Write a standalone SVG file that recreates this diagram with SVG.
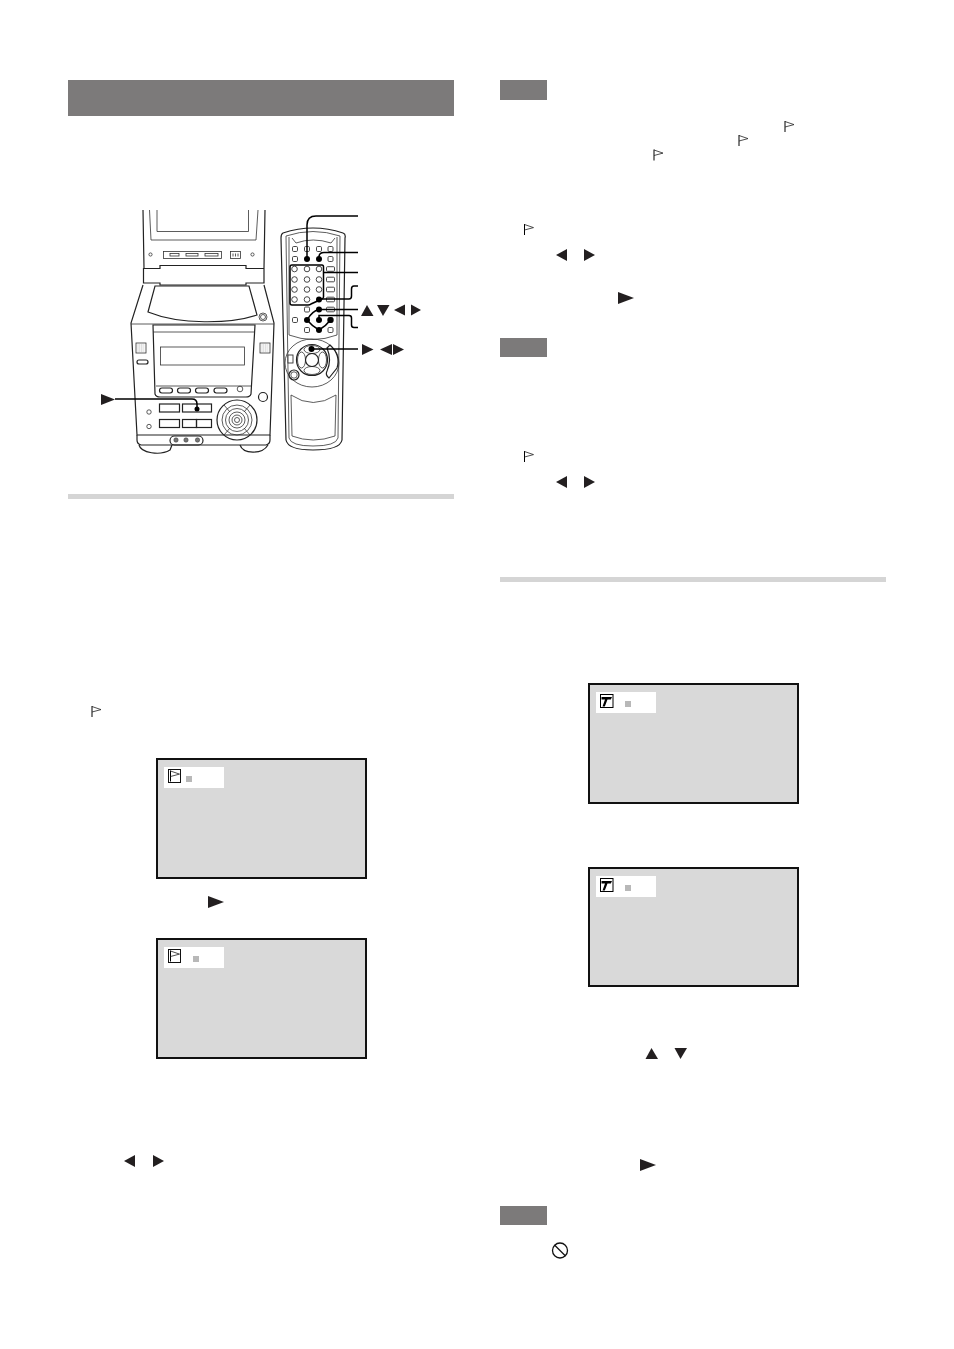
<svg xmlns="http://www.w3.org/2000/svg" width="954" height="1349" viewBox="0 0 954 1349">
<style>
.hd{fill:#7c7a7a}
.rule{fill:#d5d5d5}
.scr{fill:#d9d9d9;stroke:#111;stroke-width:2}
.lab{fill:#fff}
.sq{fill:#b8b8b8}
.tri{fill:#231f20}
.u{fill:none;stroke:#333;stroke-width:.8}
.uf{fill:#fff;stroke:#333;stroke-width:.8}
.thick{fill:none;stroke:#222;stroke-width:1.2}
.lead{fill:none;stroke:#000;stroke-width:1.5}
.dot{fill:#000}
.btn{fill:#fff;stroke:#333;stroke-width:.9}
.grill{fill:none;stroke:#888;stroke-width:.6;stroke-dasharray:1 .7}
</style>
<defs>
<g id="flag"><path d="M0 0V11" fill="none" stroke="#000" stroke-width="1"/><path d="M0 .5L9 3.600L0 6" fill="none" stroke="#222" stroke-width=".8"/></g>
<path id="tr" class="tri" d="M0 0L11 6L0 12Z"/>
<path id="tl" class="tri" d="M11 0L0 6L11 12Z"/>
<path id="tplay" class="tri" d="M0 0L16 6L0 12Z"/>
<path id="tu" class="tri" d="M6 0L12.500 11H0Z"/>
<path id="td" class="tri" d="M0 0H12.500L6 11Z"/>
<rect id="rb" class="btn" x="-2.500" y="-2.500" width="5" height="5" rx="1.200"/>
<circle id="cb" class="btn" r="2.800"/>
<rect id="pb" class="btn" x="-4" y="-2.300" width="8" height="4.600" rx="1"/>
<g id="flagbox"><rect x=".5" y=".5" width="12" height="13" fill="#fff" stroke="#111"/><use href="#flag" x="2.500" y="1.500"/></g>
<g id="tbox"><rect x=".5" y=".5" width="12.500" height="13" fill="#fff" stroke="#000"/><path d="M1.500 3H12L10.800 5.500H7.500L4.800 12.500H2.500L5 5.500H1.500Z" fill="#000"/></g>
</defs>

<rect class="hd" x="68" y="80" width="386" height="36"/>
<rect class="rule" x="68" y="494" width="386" height="5"/>
<rect class="rule" x="500" y="577" width="386" height="5"/>
<rect class="hd" x="500" y="80" width="47" height="20"/>
<rect class="hd" x="500" y="338" width="47" height="19"/>
<rect class="hd" x="500" y="1206" width="47" height="19"/>

<g id="main-unit">
<path class="thick" d="M143 210L144 268M265 210L264 268"/>
<path class="u" d="M149.500 210L151 240H256L258 210M157 210V231.500H248.500V210"/>
<rect class="u" x="163.500" y="251.500" width="58" height="7"/>
<rect class="u" x="170" y="253.500" width="9" height="2.500"/><rect class="u" x="186" y="253.500" width="12" height="2.500"/><rect class="u" x="205" y="253.500" width="13" height="2.500"/>
<rect class="u" x="230.500" y="251.500" width="10" height="7"/>
<path class="u" d="M233 253.500V256.500M235.500 253.500V256.500M238 253.500V256.500"/>
<circle class="u" cx="150.500" cy="254.500" r="1.600"/>
<circle class="u" cx="252.500" cy="254.500" r="1.600"/>
<path class="thick" d="M143.500 268.500H160V265.500H246V268.500H264V283H246V285H160V283H143.500Z"/>
<path class="thick" d="M143 285L131 323L137 435H270L274 323L264 285"/>
<path class="thick" d="M155 286H249L257 315C230 324 180 325 148 312Z"/>
<path class="u" d="M131 324H274"/>
<circle class="uf" cx="263" cy="317" r="4"/>
<circle class="u" cx="263" cy="317" r="2.500"/>
<path class="thick" d="M153 325H255L251 394Q250 397 246 397H160Q156 397 155 394Z"/>
<path class="u" d="M153 332H255M156 386H251"/>
<rect class="u" x="160.500" y="347" width="84" height="18"/>
<rect class="u" x="136" y="343" width="10" height="10"/>
<rect class="u" x="260" y="343" width="10" height="10"/>
<path class="grill" d="M137.500 345H144.500M137.500 347H144.500M137.500 349H144.500M137.500 351H144.500M261.500 345H268.500M261.500 347H268.500M261.500 349H268.500M261.500 351H268.500"/>
<rect class="thick" x="137" y="360" width="11" height="4" rx="2"/>
<rect class="thick" x="159.500" y="388" width="13" height="5" rx="2.400"/>
<rect class="thick" x="177.500" y="388" width="13" height="5" rx="2.400"/>
<rect class="thick" x="195.500" y="388" width="13" height="5" rx="2.400"/>
<rect class="thick" x="214" y="388" width="13" height="5" rx="2.400"/>
<circle class="u" cx="240" cy="389" r="2.800"/>
<circle class="thick" cx="263" cy="397" r="4.500"/>
<rect class="thick" x="159.500" y="404" width="20" height="8"/>
<rect class="thick" x="182.500" y="404" width="29" height="8"/>
<rect class="thick" x="159.500" y="419.500" width="20" height="8"/>
<rect class="thick" x="182.500" y="419.500" width="14" height="8"/>
<rect class="thick" x="196.500" y="419.500" width="15" height="8"/>
<circle class="u" cx="149" cy="412" r="2.200"/>
<circle class="u" cx="149" cy="426.500" r="2.200"/>
<circle class="thick" cx="237" cy="420" r="20"/>
<circle class="u" cx="237" cy="420" r="15"/>
<circle class="u" cx="237" cy="420" r="11.500"/>
<circle class="u" cx="237" cy="420" r="8"/>
<circle class="u" cx="237" cy="420" r="5"/>
<circle class="u" cx="237" cy="420" r="2.500"/>
<path class="u" d="M224 405L230 412M250 405L244 412M224 435L230 428M250 435L244 428"/>
<path class="thick" d="M137 435L137 440Q137 444 141 445H266Q270 444 270 440V435"/>
<rect class="thick" x="170" y="436" width="33" height="9" rx="4.500"/>
<circle cx="176" cy="440" r="2.200" fill="#777" stroke="#333" stroke-width=".5"/>
<circle cx="186" cy="440" r="2.200" fill="#777" stroke="#333" stroke-width=".5"/>
<circle cx="197.500" cy="440" r="2.200" fill="#777" stroke="#333" stroke-width=".5"/>
<path class="thick" d="M139 445C141 453 160 456 170 450L172 445M240 445C243 454 262 455 268 445"/>
</g>

<g id="remote">
<path class="thick" d="M283 233Q313 223 343 233Q346 234 345 238L342 440Q340 450 313 450Q288 450 286 440L281 238Q281 234 283 233Z"/>
<path class="u" d="M286 236Q313 227 340 236L338 438Q336 446 313 446Q291 446 289 438Z"/>
<path class="u" d="M289 237V335Q313 344 337 335V237"/>
<path class="u" d="M292 238L296 243Q313 237 331 243L335 238"/>
<path class="u" d="M291 395Q313 410 336 395L335 436Q313 444 292 436Z"/>
<g id="remote-buttons">
<use href="#rb" x="295" y="249"/><use href="#rb" x="307" y="249"/><use href="#rb" x="319" y="249"/><use href="#rb" x="330.500" y="249"/>
<use href="#rb" x="295" y="259"/><use href="#rb" x="330.500" y="259"/>
<use href="#cb" x="294.500" y="269"/><use href="#cb" x="307" y="269"/><use href="#cb" x="319" y="269"/>
<use href="#cb" x="294.500" y="279.500"/><use href="#cb" x="307" y="279.500"/><use href="#cb" x="319" y="279.500"/>
<use href="#cb" x="294.500" y="289.500"/><use href="#cb" x="307" y="289.500"/><use href="#cb" x="319" y="289.500"/>
<use href="#cb" x="294.500" y="299.500"/><use href="#cb" x="307" y="299.500"/>
<use href="#pb" x="330.500" y="269"/><use href="#pb" x="330.500" y="279.500"/><use href="#pb" x="330.500" y="289.500"/><use href="#pb" x="330.500" y="299.500"/>
<use href="#rb" x="307" y="309.500"/><use href="#pb" x="330.500" y="309.500"/>
<use href="#rb" x="295" y="320"/><use href="#rb" x="330.500" y="320"/>
<use href="#rb" x="307" y="330"/><use href="#rb" x="330.500" y="330"/>
</g>
<ellipse class="u" cx="312" cy="363" rx="27" ry="24"/>
<circle class="thick" cx="312" cy="360" r="15.500"/>
<ellipse class="u" cx="301.500" cy="360" rx="4" ry="8"/>
<ellipse class="u" cx="322.500" cy="360" rx="4" ry="8"/>
<ellipse class="u" cx="312" cy="349.500" rx="8" ry="4"/>
<ellipse class="u" cx="312" cy="370.500" rx="8" ry="4"/>
<circle class="thick" cx="312" cy="360" r="6.500"/>
<path class="thick" d="M330 345Q341 355 337 368L329 378Q325 375 327 371Q332 360 327 348Z"/>
<rect class="btn" x="288" y="355" width="5" height="8"/>
<circle class="thick" cx="294" cy="375" r="5"/>
<circle class="u" cx="294" cy="375" r="3.200"/>
</g>

<g id="connectors">
<path class="lead" d="M115 399H192Q197 399 197 404V409"/>
<path class="lead" d="M358 216H316Q307 216 307 225V259"/>
<path class="lead" d="M358 252.500H324Q319 252.500 319 257V259"/>
<path class="lead" d="M292 265H322Q323.500 265 323.500 267V297Q323.500 298 322 299L311 304Q310 305 308 305H292Q290 305 290 303V267Q290 265 292 265Z"/>
<path class="lead" d="M323.500 272.500H358"/>
<path class="lead" d="M358 286H354Q351.500 286 351.500 289V296Q351.500 299 349 299H319"/>
<path class="lead" d="M358 309.500H319Q312 311 307 320Q312 326 319 330Q326 326 330.500 320"/>
<path class="lead" d="M358 327.500H354Q351.500 327.500 351.500 325V318Q351.500 315.500 349 315.500H319V320"/>
<path class="lead" d="M358 349H311.500"/>
<circle class="dot" cx="197" cy="409" r="2.500"/>
<circle class="dot" cx="307" cy="259" r="3"/><circle class="dot" cx="319" cy="259" r="3"/><circle class="dot" cx="319" cy="299.500" r="3"/><circle class="dot" cx="319" cy="309.500" r="3"/><circle class="dot" cx="307" cy="320" r="3"/><circle class="dot" cx="319" cy="320" r="3"/><circle class="dot" cx="330.500" cy="320" r="3"/><circle class="dot" cx="319" cy="330" r="3"/><circle class="dot" cx="311.500" cy="349" r="3"/>
</g>

<g id="controls">
<path class="tri" d="M101 394L115 399.500L101 405Z"/>
<use href="#tu" x="361" y="305"/><use href="#td" x="377" y="305"/>
<path class="tri" d="M405 304.500V315.500L394 310Z"/><path class="tri" d="M411 304.500V315.500L421 310Z"/>
<path class="tri" d="M362 344L373.500 349.500L362 355Z"/><path class="tri" d="M392 344V355L380 349.500Z"/><path class="tri" d="M393 344L404 349.500L393 355Z"/>
</g>

<g id="screen-1"><rect class="scr" x="157" y="759" width="209" height="119"/><rect class="lab" x="164" y="767" width="60" height="21"/><use href="#flagbox" x="168" y="769"/><rect class="sq" x="186" y="776" width="6" height="6"/></g>
<g id="screen-2"><rect class="scr" x="157" y="939" width="209" height="119"/><rect class="lab" x="164" y="947" width="60" height="21"/><use href="#flagbox" x="168" y="949"/><rect class="sq" x="193" y="956" width="6" height="6"/></g>
<g id="screen-3"><rect class="scr" x="589" y="684" width="209" height="119"/><rect class="lab" x="596" y="692" width="60" height="21"/><use href="#tbox" x="600" y="694"/><rect class="sq" x="625" y="701" width="6" height="6"/></g>
<g id="screen-4"><rect class="scr" x="589" y="868" width="209" height="118"/><rect class="lab" x="596" y="876" width="60" height="21"/><use href="#tbox" x="600" y="878"/><rect class="sq" x="625" y="885" width="6" height="6"/></g>

<g id="inline-icons">
<use href="#flag" x="92" y="706"/>
<use href="#flag" x="785" y="121"/><use href="#flag" x="739" y="135"/><use href="#flag" x="654" y="149.500"/>
<use href="#flag" x="524.500" y="224"/><use href="#flag" x="524.500" y="451"/>
<use href="#tplay" x="208" y="896"/>
<use href="#tl" x="124" y="1155"/><use href="#tr" x="153" y="1155"/>
<use href="#tl" x="556" y="249"/><use href="#tr" x="584" y="249"/>
<use href="#tplay" x="618" y="292"/>
<use href="#tl" x="556" y="476"/><use href="#tr" x="584" y="476"/>
<use href="#tu" x="645.500" y="1048"/><use href="#td" x="674.500" y="1048"/>
<use href="#tplay" x="640" y="1159"/>
<g fill="none" stroke="#111" stroke-width="1.300"><circle cx="560" cy="1250.500" r="7.500"/><path d="M554.500 1245L565.500 1256"/></g>
</g>
</svg>
